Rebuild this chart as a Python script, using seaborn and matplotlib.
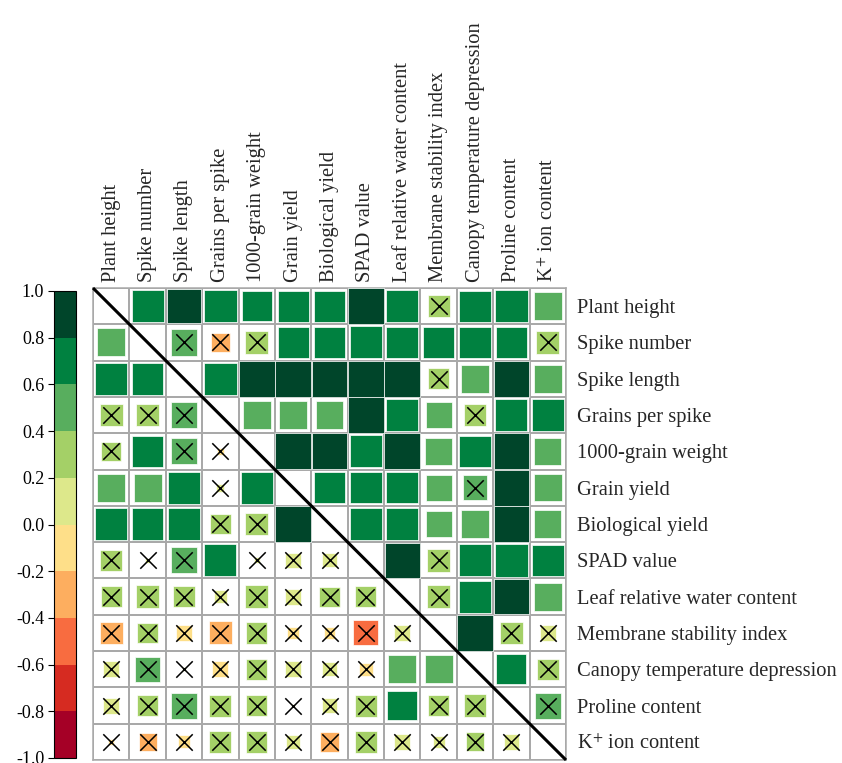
import numpy as np
import pandas as pd
import seaborn as sns
import matplotlib
matplotlib.use("Agg")
import matplotlib.pyplot as plt
from matplotlib.colors import ListedColormap, Normalize
from matplotlib.cm import ScalarMappable

# Trait names (rows and columns share the same order)
traits = [
    "Plant height",
    "Spike number",
    "Spike length",
    "Grains per spike",
    "1000-grain weight",
    "Grain yield",
    "Biological yield",
    "SPAD value",
    "Leaf relative water content",
    "Membrane stability index",
    "Canopy temperature depression",
    "Proline content",
    "K$^{+}$ ion content",
]

# Correlation coefficients: lower and upper triangles come from two conditions
r_values = [
    [1.00, 0.76, 0.88, 0.78, 0.68, 0.72, 0.72, 0.95, 0.78, 0.36, 0.72, 0.77, 0.58],
    [0.58, 1.00, 0.52, -0.28, 0.38, 0.72, 0.72, 0.76, 0.74, 0.72, 0.74, 0.74, 0.38],
    [0.78, 0.74, 1.00, 0.78, 0.95, 0.95, 0.95, 0.95, 0.95, 0.34, 0.58, 0.95, 0.58],
    [0.38, 0.38, 0.50, 1.00, 0.58, 0.58, 0.58, 0.92, 0.74, 0.50, 0.36, 0.76, 0.74],
    [0.28, 0.70, 0.50, -0.03, 1.00, 0.95, 0.95, 0.76, 0.95, 0.52, 0.74, 0.95, 0.55],
    [0.58, 0.58, 0.76, 0.05, 0.76, 1.00, 0.74, 0.74, 0.74, 0.50, 0.46, 0.95, 0.56],
    [0.78, 0.74, 0.78, 0.32, 0.38, 0.95, 1.00, 0.74, 0.74, 0.50, 0.56, 0.95, 0.55],
    [0.34, 0.02, 0.50, 0.76, 0.03, 0.18, 0.15, 1.00, 0.92, 0.38, 0.76, 0.78, 0.74],
    [0.32, 0.38, 0.34, 0.12, 0.38, 0.19, 0.30, 0.32, 1.00, 0.38, 0.76, 0.92, 0.58],
    [-0.38, 0.32, -0.19, -0.39, 0.34, -0.12, -0.10, -0.46, 0.19, 1.00, 0.92, 0.38, 0.19],
    [0.19, 0.46, 0.01, -0.19, 0.34, 0.18, 0.15, -0.13, 0.58, 0.58, 1.00, 0.66, 0.34],
    [0.19, 0.34, 0.50, 0.36, 0.32, 0.01, 0.15, 0.36, 0.66, 0.32, 0.38, 1.00, 0.50],
    [-0.03, -0.24, -0.12, 0.36, 0.34, 0.15, -0.28, 0.36, 0.19, 0.11, 0.26, 0.18, 1.00],
]

# 1 = not significant (crossed out)
nonsig = [
    [0, 0, 0, 0, 0, 0, 0, 0, 0, 1, 0, 0, 0],
    [0, 0, 1, 1, 1, 0, 0, 0, 0, 0, 0, 0, 1],
    [0, 0, 0, 0, 0, 0, 0, 0, 0, 1, 0, 0, 0],
    [1, 1, 1, 0, 0, 0, 0, 0, 0, 0, 1, 0, 0],
    [1, 0, 1, 1, 0, 0, 0, 0, 0, 0, 0, 0, 0],
    [0, 0, 0, 1, 0, 0, 0, 0, 0, 0, 1, 0, 0],
    [0, 0, 0, 1, 1, 0, 0, 0, 0, 0, 0, 0, 0],
    [1, 1, 1, 0, 1, 1, 1, 0, 0, 1, 0, 0, 0],
    [1, 1, 1, 1, 1, 1, 1, 1, 0, 1, 0, 0, 0],
    [1, 1, 1, 1, 1, 1, 1, 1, 1, 0, 0, 1, 1],
    [1, 1, 1, 1, 1, 1, 1, 1, 0, 0, 0, 0, 1],
    [1, 1, 1, 1, 1, 1, 1, 1, 0, 1, 1, 0, 1],
    [1, 1, 1, 1, 1, 1, 1, 1, 1, 1, 1, 1, 0],
]

# Ten discrete colour bins from -1 to 1
bin_colors = ["#A50026", "#D62B21", "#F86C40", "#FDAE5F", "#FEDF89",
              "#DDE88B", "#A4D067", "#58AE5E", "#008140", "#00452A"]
cbar_ticks = [-1.0, -0.8, -0.6, -0.4, -0.2, 0.0, 0.2, 0.4, 0.6, 0.8, 1.0]

n = len(traits)
cmap = ListedColormap(bin_colors)
norm = Normalize(-1, 1)

records = []
for i in range(n):
    for j in range(n):
        if i == j:
            continue
        r = r_values[i][j]
        records.append({"x": j + 0.5, "y": i + 0.5, "r": r,
                        "absr": abs(r), "ns": nonsig[i][j]})
cells = pd.DataFrame(records)

sns.set_style("white")
plt.rcParams["font.family"] = ["Liberation Serif", "DejaVu Serif"]
plt.rcParams["mathtext.fontset"] = "stix"
plt.rcParams["axes.unicode_minus"] = False

fig = plt.figure(figsize=(8.42, 7.63), dpi=100)
ax = fig.add_axes([93 / 842, 1 - 760 / 763, 473 / 842, 472 / 763])

# White grid of cells with grey borders
grid = pd.DataFrame(np.zeros((n, n)), index=traits, columns=traits)
sns.heatmap(grid, cmap=ListedColormap(["white"]), cbar=False,
            linewidths=1.1, linecolor="#a9a9a9",
            xticklabels=traits, yticklabels=traits, ax=ax)

# Squares: area proportional to |r|, colour by binned r
sns.scatterplot(data=cells, x="x", y="y", hue="r", palette=cmap,
                hue_norm=(-1, 1), size="absr", sizes=(0, 700),
                size_norm=(0, 1), marker="s", edgecolor="white",
                linewidth=0.5, legend=False, ax=ax, zorder=3)

# Crosses on non-significant coefficients
sns.scatterplot(data=cells[cells["ns"] == 1], x="x", y="y", marker="x",
                s=140, color="black", linewidth=1.1, legend=False,
                ax=ax, zorder=4)

# Diagonal separator
ax.plot([0, n], [0, n], color="black", lw=2.2, zorder=5,
        solid_capstyle="butt", clip_on=False)

ax.set_xlim(0, n)
ax.set_ylim(n, 0)
ax.set_xlabel("")
ax.set_ylabel("")
ax.xaxis.tick_top()
ax.yaxis.tick_right()
ax.set_xticks(np.arange(n) + 0.5)
ax.set_yticks(np.arange(n) + 0.5)
ax.set_xticklabels(traits, rotation=90, fontsize=14.8)
ax.set_yticklabels(traits, rotation=0, fontsize=14.8)
ax.tick_params(axis="x", length=0, pad=4)
ax.tick_params(axis="y", length=0, pad=8)
for sp in ax.spines.values():
    sp.set_visible(True)
    sp.set_color("#a9a9a9")
    sp.set_linewidth(1.1)

# Colour bar on the left
cax = fig.add_axes([54 / 842, 1 - 758 / 763, 22 / 842, 467 / 763])
cb = fig.colorbar(ScalarMappable(norm=norm, cmap=cmap), cax=cax,
                  ticks=cbar_ticks)
cax.yaxis.set_ticks_position("left")
cax.set_yticklabels([f"{t + 0.0:.1f}" for t in cbar_ticks], fontsize=13)
cax.tick_params(axis="y", length=4, width=0.8, pad=3, colors="black")
cb.outline.set_linewidth(0.8)
cb.outline.set_edgecolor("black")

fig.savefig("out.png", dpi=100)
